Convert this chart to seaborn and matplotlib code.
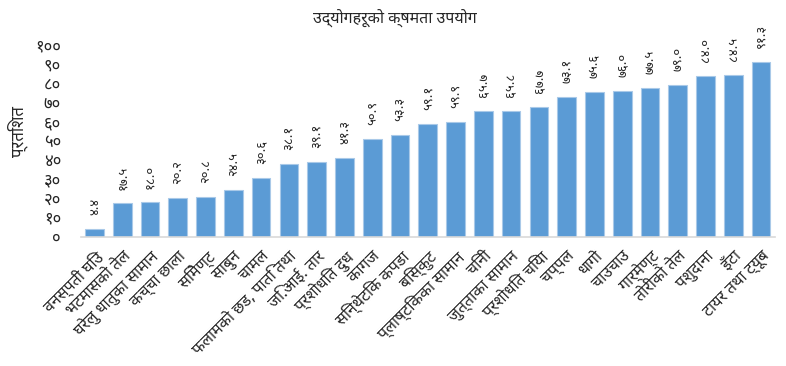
import matplotlib
matplotlib.use('Agg')

import pandas as pd
import matplotlib.pyplot as plt
import seaborn as sns

# industries and capacity utilisation (%)
industries = ['वनस्पती घिउ', 'भटमासको तेल', 'घरेलु धातुका सामान', 'कच्चा छाला',
              'सिमेण्ट', 'साबुन', 'चामल', 'फलामको छड, पाति तथा', 'जि.आई. तार',
              'प्रशोधित दुध', 'कागज', 'सिन्थेटिक कपडा', 'बिस्कुट',
              'प्लाष्टिकका सामान', 'चिनी', 'जुत्ताका सामान', 'प्रशोधित चिया',
              'चप्पल', 'धागो', 'चाउचाउ', 'गार्मेण्ट', 'तोरीको तेल', 'पशुदाना',
              'इँटा', 'टायर तथा ट्यूब']
utilisation = [4.4, 17.5, 18.0, 20.2, 20.8, 24.5, 30.6, 38.1, 39.1, 41.3, 50.9,
               53.3, 59.1, 59.9, 65.7, 65.8, 67.7, 73.1, 75.6, 76.0, 77.5, 79.0,
               84.0, 84.5, 91.3]
yticks = list(range(0, 101, 10))

title = 'उद्योगहरूको क्षमता उपयोग'
ylabel = 'प्रतिशत'

nep = str.maketrans('0123456789', '०१२३४५६७८९')

sns.set_style('white')
plt.rcParams['font.family'] = ['Noto Sans Devanagari', 'Noto Sans Devanagari UI',
                               'Mukta', 'Hind', 'DejaVu Sans']

df = pd.DataFrame({'industry': industries, 'value': utilisation})

fig = plt.figure(figsize=(7.86, 3.66), dpi=100)
ax = fig.add_axes([0.1025, 0.3525, 0.8835, 0.5245])

sns.barplot(data=df, x='industry', y='value', color='#5B9BD5', saturation=1,
            width=0.67, edgecolor='#A9C9E8', linewidth=0.8, ax=ax)

ax.bar_label(ax.containers[0],
             labels=[('%.1f' % v).translate(nep) for v in utilisation],
             rotation=90, padding=10, fontsize=9.5)

ax.set_ylim(0, 100)
ax.set_yticks(yticks)
ax.set_yticklabels([str(t).translate(nep) for t in yticks], fontsize=12)
ax.set_xticks(range(len(industries)))
ax.set_xticklabels(industries, rotation=45, ha='right', rotation_mode='anchor',
                   fontsize=11.5)
ax.tick_params(axis='y', length=0, pad=14)
ax.tick_params(axis='x', length=0, pad=8)

ax.set_xlabel('')
ax.set_ylabel('')
fig.text(0.022, 0.64, ylabel, rotation=90, ha='center', va='center', fontsize=12)
fig.text(0.5025, 0.95, title, ha='center', va='center', fontsize=11.5)

for s in ['top', 'right', 'left']:
    ax.spines[s].set_visible(False)
ax.spines['bottom'].set_color('#D9D9D9')
ax.spines['bottom'].set_linewidth(1.2)

fig.savefig('out.png', dpi=100)
